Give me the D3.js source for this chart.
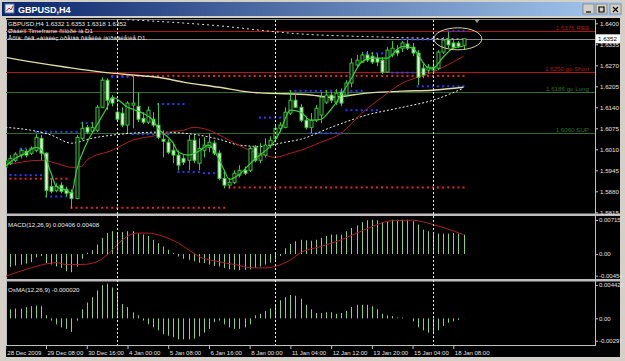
<!DOCTYPE html>
<html>
<head>
<meta charset="utf-8">
<script src="https://cdnjs.cloudflare.com/ajax/libs/d3/7.8.5/d3.min.js"></script>
<style>
  body { margin: 0; background: #d4d0c8; }
  svg { display: block; }
  text { font-family: "Liberation Sans", Arial, sans-serif; }
</style>
</head>
<body>
<svg width="625" height="361"></svg>
<script>
// GBPUSD H4 bars, 28 Dec 2009 00:00 onwards (one entry per bar)
const openP = [1.5954,1.5967,1.5976,1.5992,1.6004,1.5998,1.6007,1.6044,1.5998,1.5895,
  1.5883,1.5899,1.5886,1.5877,1.5858,1.6044,1.6078,1.6066,1.6069,1.6140,
  1.6224,1.6168,1.6125,1.6122,1.6085,1.6147,1.6143,1.6106,1.6094,1.6103,
  1.6085,1.6041,1.6032,1.6007,1.5992,1.5982,1.5976,1.6038,1.5967,1.6007,
  1.6016,1.6029,1.5998,1.5920,1.5899,1.5908,1.5930,1.5945,1.5945,1.6016,
  1.5976,1.5992,1.6023,1.6044,1.6075,1.6078,1.6122,1.6162,1.6140,1.6100,
  1.6078,1.6100,1.6116,1.6156,1.6178,1.6156,1.6187,1.6178,1.6215,1.6271,
  1.6280,1.6302,1.6298,1.6292,1.6286,1.6249,1.6302,1.6317,1.6323,1.6336,
  1.6326,1.6308,1.6261,1.6255,1.6255,1.6261,1.6311,1.6348,1.6339,1.6339,
  1.6332];
const highP = [1.5985,1.5992,1.6001,1.6013,1.6010,1.6019,1.6057,1.6054,1.6001,1.5920,
  1.5905,1.5908,1.5895,1.5886,1.6054,1.6094,1.6085,1.6094,1.6147,1.6233,
  1.6230,1.6178,1.6153,1.6140,1.6159,1.6240,1.6187,1.6125,1.6143,1.6125,
  1.6153,1.6069,1.6041,1.6029,1.6007,1.5992,1.6054,1.6054,1.6044,1.6047,
  1.6060,1.6038,1.6007,1.5945,1.5920,1.5945,1.5961,1.5957,1.6019,1.6023,
  1.6029,1.6044,1.6050,1.6085,1.6094,1.6140,1.6193,1.6184,1.6150,1.6112,
  1.6122,1.6147,1.6187,1.6193,1.6187,1.6196,1.6199,1.6224,1.6292,1.6302,
  1.6311,1.6314,1.6311,1.6305,1.6295,1.6326,1.6345,1.6333,1.6345,1.6348,
  1.6339,1.6317,1.6274,1.6274,1.6280,1.6317,1.6357,1.6373,1.6348,1.6345,
  1.6353];
const lowP = [1.5948,1.5961,1.5970,1.5982,1.5985,1.5992,1.6001,1.5976,1.5861,1.5874,
  1.5877,1.5874,1.5864,1.5827,1.5855,1.6038,1.6057,1.6060,1.6063,1.6137,
  1.6131,1.6143,1.6100,1.6078,1.6060,1.6075,1.6094,1.6088,1.6088,1.6078,
  1.6041,1.5985,1.5995,1.5967,1.5945,1.5961,1.5945,1.5967,1.5945,1.5985,
  1.6001,1.5992,1.5914,1.5889,1.5889,1.5902,1.5923,1.5930,1.5939,1.5970,
  1.5967,1.5985,1.6013,1.6032,1.6063,1.6075,1.6116,1.6137,1.6094,1.6072,
  1.6060,1.6094,1.6091,1.6150,1.6153,1.6147,1.6143,1.6171,1.6202,1.6264,
  1.6277,1.6280,1.6274,1.6267,1.6243,1.6246,1.6295,1.6298,1.6311,1.6317,
  1.6298,1.6209,1.6230,1.6246,1.6249,1.6255,1.6305,1.6323,1.6320,1.6323,
  1.6318];
const closeP = [1.5976,1.5982,1.5995,1.6007,1.5992,1.6013,1.6047,1.5998,1.5883,1.5880,
  1.5895,1.5880,1.5874,1.5858,1.6047,1.6075,1.6063,1.6078,1.6140,1.6224,
  1.6162,1.6153,1.6103,1.6085,1.6153,1.6153,1.6103,1.6094,1.6131,1.6085,
  1.6047,1.6035,1.6001,1.5992,1.5961,1.5970,1.6038,1.5976,1.6013,1.6023,
  1.6032,1.5998,1.5920,1.5899,1.5908,1.5936,1.5945,1.5936,1.6013,1.5976,
  1.5992,1.6023,1.6038,1.6075,1.6085,1.6125,1.6162,1.6140,1.6100,1.6078,
  1.6100,1.6137,1.6171,1.6178,1.6162,1.6184,1.6153,1.6215,1.6277,1.6286,
  1.6302,1.6286,1.6280,1.6280,1.6249,1.6317,1.6323,1.6308,1.6339,1.6323,
  1.6308,1.6233,1.6240,1.6264,1.6264,1.6311,1.6348,1.6333,1.6326,1.6329,
  1.6352];

// moving averages as [bar, price]
const fastMA = [[0,1.5957],[2,1.5982],[4,1.5998],[6,1.6016],[7,1.6010],[9,1.5936],[10,1.5895],[12,1.5883],
  [13,1.5874],[14,1.5945],[16,1.6029],[18,1.6085],[20,1.6140],[21,1.6171],[22,1.6165],[24,1.6140],[25,1.6134],
  [27,1.6122],[29,1.6100],[30,1.6075],[32,1.6047],[33,1.6029],[34,1.6001],[36,1.5992],[38,1.6004],[40,1.6023],
  [41,1.6007],[43,1.5945],[44,1.5917],[46,1.5933],[47,1.5948],[49,1.5979],[50,1.5992],[53,1.6038],[54,1.6066],
  [56,1.6131],[58,1.6125],[60,1.6100],[62,1.6103],[64,1.6134],[68,1.6230],[70,1.6280],[72,1.6292],[75,1.6292],
  [77,1.6320],[78,1.6329],[80,1.6323],[81,1.6305],[82,1.6280],[83,1.6263],[84,1.6261],[86,1.6295],[88,1.6323],[90,1.6329]];
const redMA = [[0,1.5961],[7,1.5976],[10,1.5967],[13,1.5954],[15,1.5957],[16,1.5976],[21,1.6007],[25,1.6038],
  [30,1.6054],[32,1.6063],[35,1.6069],[37,1.6078],[40,1.6069],[44,1.6038],[48,1.6007],[51,1.5992],[53,1.5985],
  [56,1.5998],[58,1.6007],[62,1.6032],[66,1.6060],[70,1.6122],[74,1.6171],[78,1.6215],[81,1.6233],[84,1.6249],
  [86,1.6264],[90,1.6298]];
const whiteMA = [[0,1.6078],[5,1.6069],[9,1.6054],[13,1.6029],[17,1.6044],[21,1.6054],[25,1.6060],[30,1.6063],
  [35,1.6060],[42,1.6041],[46,1.6023],[50,1.6019],[55,1.6032],[58,1.6041],[64,1.6078],[71,1.6116],[78,1.6140],
  [84,1.6162],[90,1.6199]];
const yellowMA = [[0,1.6295],[3,1.6286],[12,1.6264],[19,1.6249],[25,1.6240],[30,1.6233],[35,1.6218],[42,1.6202],
  [48,1.6187],[51,1.6184],[60,1.6178],[64,1.6171],[71,1.6184],[78,1.6190],[84,1.6193],[90,1.6202]];
const topMA = [[22,1.6413],[40,1.6395],[58,1.6367],[75,1.6357],[90,1.6351]];

// hand drawn levels
const levelPrices = [1.6376, 1.6250, 1.6186, 1.6060];
const levelNames = ["RES", "go Short", "go Long", "SUP"];
const lastPrice = 1.6352;

// support / resistance dots: [fromBar, toBar, price]
const redDots = [[1,12,1.5919],[13,43,1.5829],[21,90,1.6237],[44,90,1.5892]];
const blueDots = [[1,7,1.5930],[3,5,1.6012],[6,14,1.6064],[8,13,1.5864],[15,18,1.6092],[21,24,1.6234],
  [25,32,1.6057],[30,35,1.6150],[34,38,1.5940],[39,43,1.5936],[50,54,1.6108],[56,70,1.6191],[60,66,1.6060],
  [67,73,1.6131],[71,74,1.6307],[76,80,1.6247],[78,84,1.6350],[81,90,1.6205],[87,90,1.6377]];

// MACD(12,26,9) histogram per bar, signal as [bar, value]
const macdHist = [-0.0029,-0.0027,-0.0024,-0.0022,-0.0020,-0.0017,-0.0007,-0.0004,-0.0019,-0.0022,
  -0.0026,-0.0029,-0.0036,-0.0038,-0.0026,-0.0010,0.0003,0.0008,0.0020,0.0034,
  0.0044,0.0048,0.0046,0.0046,0.0048,0.0048,0.0044,0.0041,0.0038,0.0030,
  0.0023,0.0016,0.0009,0.0002,-0.0005,-0.0010,-0.0012,-0.0015,-0.0018,-0.0019,
  -0.0022,-0.0025,-0.0026,-0.0029,-0.0032,-0.0033,-0.0034,-0.0033,-0.0032,-0.0029,
  -0.0026,-0.0022,-0.0018,-0.0012,-0.0004,0.0012,0.0021,0.0027,0.0030,0.0029,
  0.0028,0.0030,0.0034,0.0038,0.0041,0.0041,0.0041,0.0048,0.0055,0.0060,
  0.0067,0.0071,0.0072,0.0071,0.0067,0.0069,0.0072,0.0072,0.0072,0.0072,
  0.0069,0.0062,0.0051,0.0048,0.0043,0.0043,0.0043,0.0043,0.0044,0.0043,
  0.00406];
const macdSignal = [[0,-0.0047],[5,-0.0029],[9,-0.0019],[10,-0.0018],[12,-0.0022],[15,-0.0022],[18,-0.0016],
  [21,0.0008],[23,0.0030],[26,0.0044],[28,0.0044],[31,0.0037],[34,0.0023],[36,0.0009],[38,-0.0005],[42,-0.0016],
  [45,-0.0022],[49,-0.0029],[51,-0.0029],[53,-0.0026],[56,-0.0012],[58,0.0003],[62,0.0016],[66,0.0030],
  [71,0.0053],[76,0.0070],[80,0.0071],[84,0.0062],[90,0.00408]];
const osmaHist = [0.0010,0.0012,0.0013,0.0013,0.0015,0.0016,0.0017,0.0016,0.0004,-0.0003,
  -0.0008,-0.0012,-0.0014,-0.0018,-0.0003,0.0012,0.0021,0.0028,0.0037,0.0044,
  0.0046,0.0041,0.0035,0.0019,0.0015,0.0008,0.0004,-0.0003,-0.0008,-0.0012,
  -0.0016,-0.0021,-0.0023,-0.0025,-0.0028,-0.0028,-0.0028,-0.0027,-0.0024,-0.0019,
  -0.0014,-0.0005,-0.0003,-0.0008,-0.0012,-0.0014,-0.0014,-0.0012,-0.0008,0.0004,
  0.0006,0.0010,0.0013,0.0017,0.0024,0.0028,0.0031,0.0030,0.0026,0.0018,
  0.0012,0.0007,0.0007,0.0008,0.0008,0.0006,0.0007,0.0010,0.0015,0.0018,
  0.0018,0.0018,0.0016,0.0012,0.0006,0.0004,0.0003,0.0001,0.0001,0.0000,
  -0.0004,-0.0012,-0.0016,-0.0019,-0.0021,-0.0016,-0.0010,-0.0006,-0.0004,-0.0002,
  -0.00002];

// axes
const priceTicks = [1.6400,1.6335,1.6270,1.6205,1.6140,1.6075,1.6010,1.5945,1.5880,1.5815];
const macdTicks = [0.00715, 0, -0.00454];
const macdTickText = ["0.00715", "0.00", "-0.00454"];
const osmaTicks = [0.004425, 0, -0.00297];
const osmaTickText = ["0.004425", "0.00", "-0.00297"];
const timeBars = [0,8,16,24,32,40,48,56,64,72,80,88];
const timeLabels = ["28 Dec 2009","29 Dec 08:00","30 Dec 16:00","4 Jan 00:00","5 Jan 08:00","6 Jan 16:00",
  "8 Jan 00:00","11 Jan 04:00","12 Jan 12:00","13 Jan 20:00","15 Jan 04:00","18 Jan 08:00"];
const weekStartBars = [22, 53, 84];

const headerLines = ["GBPUSD,H4  1.6332 1.6353 1.6318 1.6352",
  "Øàáëîí Timeframe ñìîòðè íà D1",
  "Âõîä: ñèã +àíàëèç òðåíäà ñäåëêè íàïðàâëåíèå D1."];

class TerminalChart {
  constructor() {
    let self = this;
    self.svg = d3.select("svg");
    self.left = 6; self.right = 595;
    self.x = d3.scaleLinear().domain([0, 90]).range([5.3, 463.5]);
    self.price = d3.scaleLinear().domain([1.5815, 1.6400]).range([212.3, 23.3]);
    self.macd = d3.scaleLinear().domain([-0.00454, 0.00715]).range([275.7, 220]);
    self.osma = d3.scaleLinear().domain([-0.00297, 0.004425]).range([340.7, 285]);
    self.bars = d3.range(openP.length);

    let defs = self.svg.append("defs");
    let grad = defs.append("linearGradient").attr("id", "title");
    grad.append("stop").attr("offset", "0").attr("stop-color", "#0a246a");
    grad.append("stop").attr("offset", "1").attr("stop-color", "#a6caf0");
    [["clipMain", 19, 213.5], ["clipMacd", 216, 279], ["clipOsma", 281, 345]].forEach(function(c) {
      defs.append("clipPath").attr("id", c[0]).append("rect")
        .attr("x", self.left).attr("y", c[1]).attr("width", self.right - self.left).attr("height", c[2] - c[1]);
    });
  }
}

TerminalChart.prototype.drawFrame = function() {
  let self = this;
  self.svg.append("rect").attr("width", 625).attr("height", 361).attr("fill", "#d4d0c8");
  self.svg.append("rect").attr("x", 2).attr("y", 2).attr("width", 620).attr("height", 14).attr("fill", "url(#title)");
  self.svg.append("rect").attr("x", 5).attr("y", 4).attr("width", 9).attr("height", 9).attr("fill", "#e8e8e8").attr("stroke", "#5070a0");
  self.svg.append("path").attr("d", "M6.5,11 L9,8 L11,10 L13,6").attr("fill", "none").attr("stroke", "#c03030");
  self.svg.append("text").attr("x", 18).attr("y", 12.5).attr("fill", "#fff")
    .attr("font-size", 9).attr("font-weight", "bold").text("GBPUSD,H4");
  [583, 596, 610].forEach(function(bx, k) {
    self.svg.append("rect").attr("x", bx).attr("y", 4).attr("width", 11).attr("height", 10)
      .attr("fill", "#d4d0c8").attr("stroke", "#808080").attr("stroke-width", 0.8);
    let glyph = ["M586,12 h5", "M599,7 h5 v5 h-5 z", "M613,7 l5,5 M618,7 l-5,5"][k];
    self.svg.append("path").attr("d", glyph).attr("fill", "none").attr("stroke", "#000").attr("stroke-width", 1.2);
  });
  self.svg.append("rect").attr("x", 6).attr("y", 18).attr("width", 614).attr("height", 339).attr("fill", "#000");

  // sub window separators and axis lines
  [213.5, 279].forEach(function(sy) {
    self.svg.append("rect").attr("x", 6).attr("y", sy).attr("width", 614).attr("height", 2.5).attr("fill", "#bdbdbd");
  });
  self.svg.append("line").attr("x1", 6.5).attr("x2", 6.5).attr("y1", 19).attr("y2", 346).attr("stroke", "#c0c0c0");
  self.svg.append("line").attr("x1", 595.5).attr("x2", 595.5).attr("y1", 19).attr("y2", 346).attr("stroke", "#c0c0c0");
  self.svg.append("line").attr("x1", 6).attr("x2", 596).attr("y1", 345.5).attr("y2", 345.5).attr("stroke", "#c0c0c0");
  self.svg.append("line").attr("x1", 6).attr("x2", 596).attr("y1", 19.5).attr("y2", 19.5).attr("stroke", "#808080");
};

TerminalChart.prototype.drawMain = function() {
  let self = this;
  let g = self.svg.append("g").attr("clip-path", "url(#clipMain)");
  let line = d3.line().x(function(d) { return self.x(d[0]); }).y(function(d) { return self.price(d[1]); })
    .curve(d3.curveMonotoneX);

  // levels
  levelPrices.forEach(function(p, k) {
    let colour = p > 1.62 ? "#b01818" : "#2f6e2f";
    let yy = Math.round(self.price(p)) + 0.5;
    g.append("line").attr("x1", self.left).attr("x2", self.right).attr("y1", yy).attr("y2", yy)
      .attr("stroke", colour);
    g.append("text").attr("x", self.right - 6).attr("y", yy - 2).attr("text-anchor", "end")
      .attr("font-size", 6.2).attr("fill", colour).text(p.toFixed(4) + " " + levelNames[k]);
  });
  let ly = Math.round(self.price(lastPrice)) + 0.5;
  g.append("line").attr("x1", self.left).attr("x2", self.right).attr("y1", ly).attr("y2", ly)
    .attr("stroke", "#8a8a8a");

  // dotted support / resistance
  [[redDots, "#e02828"], [blueDots, "#2a3cff"]].forEach(function(set) {
    let pts = [];
    set[0].forEach(function(s) {
      d3.range(s[0], s[1] + 1).forEach(function(i) { pts.push([i, s[2]]); });
    });
    g.append("g").selectAll("rect").data(pts).enter().append("rect")
      .attr("x", function(d) { return self.x(d[0]) - 1; })
      .attr("y", function(d) { return self.price(d[1]) - 1; })
      .attr("width", 2).attr("height", 2).attr("fill", set[1]);
  });

  g.append("path").datum(yellowMA).attr("d", line).attr("fill", "none").attr("stroke", "#e0dca4").attr("stroke-width", 1.4);
  g.append("path").datum(topMA).attr("d", line).attr("fill", "none").attr("stroke", "#e0e0e0").attr("stroke-dasharray", "2,3");
  g.append("path").datum(whiteMA).attr("d", line).attr("fill", "none").attr("stroke", "#f0f0f0").attr("stroke-dasharray", "2,2");
  g.append("path").datum(redMA).attr("d", line).attr("fill", "none").attr("stroke", "#b02020").attr("stroke-width", 1);

  // candles
  let candles = g.append("g").selectAll("g").data(self.bars).enter().append("g");
  candles.append("line")
    .attr("x1", function(i) { return Math.round(self.x(i)) + 0.5; })
    .attr("x2", function(i) { return Math.round(self.x(i)) + 0.5; })
    .attr("y1", function(i) { return self.price(highP[i]); })
    .attr("y2", function(i) { return self.price(lowP[i]); })
    .attr("stroke", "#3cc83c");
  candles.append("rect")
    .attr("x", function(i) { return Math.round(self.x(i)) - 1; })
    .attr("y", function(i) { return self.price(Math.max(openP[i], closeP[i])); })
    .attr("width", 3)
    .attr("height", function(i) { return Math.max(1, self.price(Math.min(openP[i], closeP[i])) - self.price(Math.max(openP[i], closeP[i]))); })
    .attr("fill", function(i) { return closeP[i] < openP[i] ? "#e4f6dc" : "#000"; })
    .attr("stroke", "#3cc83c").attr("stroke-width", 1);

  g.append("path").datum(fastMA).attr("d", line).attr("fill", "none").attr("stroke", "#38d038").attr("stroke-width", 1.2);

  // marked area round the last bars
  g.append("ellipse").attr("cx", self.x(88.9)).attr("cy", self.price(1.6352))
    .attr("rx", self.x(93.6) - self.x(88.9)).attr("ry", self.price(1.6318) - self.price(1.6352))
    .attr("fill", "none").attr("stroke", "#d8d49a").attr("stroke-width", 1);

  headerLines.forEach(function(t, k) {
    g.append("text").attr("x", 8).attr("y", 25.5 + k * 7.3).attr("font-size", 6.2).attr("fill", "#e8e8e8").text(t);
  });
  self.svg.append("path").attr("d", "M474,19 h6 l-3,4 z").attr("fill", "#9a9a9a");

  // price scale
  let axis = self.svg.append("g").attr("transform", "translate(595,0)")
    .call(d3.axisRight(self.price).tickValues(priceTicks).tickSize(3).tickPadding(2).tickFormat(d3.format(".4f")));
  axis.select(".domain").remove();
  axis.selectAll("line").attr("stroke", "#c0c0c0");
  axis.selectAll("text").attr("fill", "#e0e0e0").attr("font-size", 6.2).attr("font-family", "Liberation Sans, Arial");
  let by = self.price(lastPrice);
  self.svg.append("rect").attr("x", 596).attr("y", by - 4.5).attr("width", 24).attr("height", 9).attr("fill", "#fff");
  self.svg.append("text").attr("x", 598).attr("y", by + 2.3).attr("font-size", 6.2).attr("fill", "#000").text(lastPrice.toFixed(4));
};

TerminalChart.prototype.drawOscillator = function(scale, values, clip, label, ticks, tickText, signal) {
  let self = this;
  let g = self.svg.append("g").attr("clip-path", "url(#" + clip + ")");
  g.selectAll("line").data(self.bars).enter().append("line")
    .attr("x1", function(i) { return Math.round(self.x(i)) + 0.5; })
    .attr("x2", function(i) { return Math.round(self.x(i)) + 0.5; })
    .attr("y1", scale(0))
    .attr("y2", function(i) { return scale(values[i]); })
    .attr("stroke", "#84d084").attr("stroke-width", 1);
  if (signal) {
    g.append("path").datum(signal)
      .attr("d", d3.line().x(function(d) { return self.x(d[0]); }).y(function(d) { return scale(d[1]); }).curve(d3.curveMonotoneX))
      .attr("fill", "none").attr("stroke", "#b02020").attr("stroke-width", 1);
  }
  g.append("text").attr("x", 8).attr("y", scale.range()[1] + 6.5).attr("font-size", 6.2).attr("fill", "#e8e8e8").text(label);

  let axis = self.svg.append("g").attr("transform", "translate(595,0)")
    .call(d3.axisRight(scale).tickValues(ticks).tickSize(3).tickPadding(1)
      .tickFormat(function(d, k) { return tickText[k]; }));
  axis.select(".domain").remove();
  axis.selectAll("line").attr("stroke", "#c0c0c0");
  axis.selectAll("text").attr("fill", "#e0e0e0").attr("font-size", 6).attr("font-family", "Liberation Sans, Arial");
};

TerminalChart.prototype.drawTime = function() {
  let self = this;
  let axis = self.svg.append("g").attr("transform", "translate(0,345)")
    .call(d3.axisBottom(self.x).tickValues(timeBars).tickSize(4)
      .tickFormat(function(d, k) { return timeLabels[k]; }));
  axis.select(".domain").remove();
  axis.selectAll("line").attr("stroke", "#c0c0c0");
  axis.selectAll("text").attr("fill", "#e0e0e0").attr("font-size", 6).attr("font-family", "Liberation Sans, Arial")
    .attr("text-anchor", "start").attr("dx", 1).attr("dy", "0.45em");
  axis.select(".tick text").attr("dx", 1.5);

  // week separators through every window
  weekStartBars.forEach(function(b) {
    let xx = Math.round(self.x(b)) + 0.5;
    self.svg.append("line").attr("x1", xx).attr("x2", xx).attr("y1", 20).attr("y2", 345)
      .attr("stroke", "#e8e8e8").attr("stroke-dasharray", "2,2");
  });
};

let chart = new TerminalChart();
chart.drawFrame();
chart.drawMain();
chart.drawOscillator(chart.macd, macdHist, "clipMacd", "MACD(12,26,9) 0.00406 0.00408", macdTicks, macdTickText, macdSignal);
chart.drawOscillator(chart.osma, osmaHist, "clipOsma", "OsMA(12,26,9) -0.000020", osmaTicks, osmaTickText, null);
chart.drawTime();
</script>
</body>
</html>
